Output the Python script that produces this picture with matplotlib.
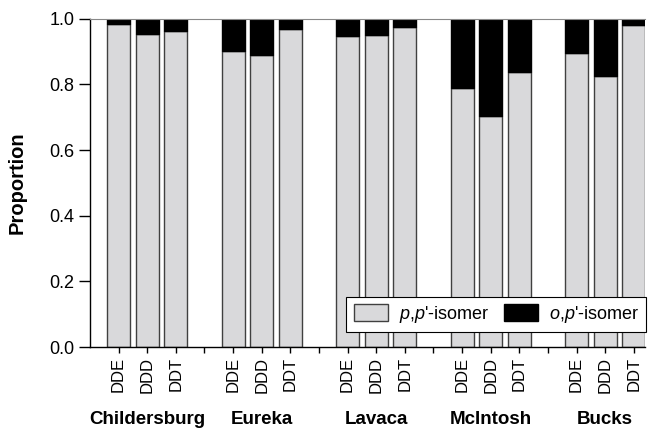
import matplotlib
matplotlib.use("Agg")
import matplotlib.pyplot as plt
import numpy as np

plt.rcParams['font.family'] = ['Liberation Sans', 'DejaVu Sans']
plt.rcParams['mathtext.fontset'] = 'custom'
plt.rcParams['mathtext.it'] = 'Liberation Sans:italic'
plt.rcParams['mathtext.rm'] = 'Liberation Sans'

# Data: proportion of p,p'-isomer for each site and compound
sites = ['Childersburg', 'Eureka', 'Lavaca', 'McIntosh', 'Bucks']
compounds = ['DDE', 'DDD', 'DDT']
pp_isomer = [
    [0.984, 0.953, 0.963],   # Childersburg
    [0.901, 0.890, 0.969],   # Eureka
    [0.948, 0.951, 0.976],   # Lavaca
    [0.790, 0.703, 0.837],   # McIntosh
    [0.895, 0.825, 0.982],   # Bucks
]

grey = '#d9d9db'
edge = '#404040'

fig = plt.figure(figsize=(6.54, 4.28), dpi=100)
ax = fig.add_axes([0.1376, 0.189, 0.849, 0.767])

pos, pp_vals, labels = [], [], []
for i, site in enumerate(sites):
    for j, comp in enumerate(compounds):
        pos.append(i * 4 + j + 1)
        pp_vals.append(pp_isomer[i][j])
        labels.append(comp)
pos = np.array(pos)
pp_vals = np.array(pp_vals)
op_vals = 1 - pp_vals

ax.bar(pos, pp_vals, width=0.8, color=grey, edgecolor=edge, linewidth=1.0,
       label=r"$\mathit{p{,}p}$'-isomer")
ax.bar(pos, op_vals, width=0.8, bottom=pp_vals, color='black', edgecolor='black',
       linewidth=1.0, label=r"$\mathit{o{,}p}$'-isomer")

# ticks: bar centres plus gap ticks between groups
gap_ticks = [4, 8, 12, 16]
all_ticks = list(pos) + gap_ticks
all_labels = labels + [''] * len(gap_ticks)
ax.set_xticks(all_ticks)
ax.set_xticklabels(all_labels, rotation=90, fontsize=12)
ax.set_xlim(0, 19.4)
ax.set_ylim(0, 1.0)
ax.set_yticks(np.arange(0, 1.01, 0.2))
ax.set_yticklabels(['%.1f' % v for v in np.arange(0, 1.01, 0.2)], fontsize=13)
ax.tick_params(axis='x', direction='out', length=4, width=1, pad=3)
ax.tick_params(axis='y', direction='out', length=8, width=1, pad=3)
ax.set_ylabel('Proportion', fontsize=14.5, fontweight='bold')
ax.yaxis.set_label_coords(-0.115, 0.5)

for side in ['left', 'bottom']:
    ax.spines[side].set_linewidth(1.0)
ax.spines['right'].set_visible(False)
ax.spines['top'].set_color('#888888')

for i, site in enumerate(sites):
    ax.text(i * 4 + 2, -0.195, site, ha='center', va='top', fontsize=13.5,
            fontweight='bold', transform=ax.get_xaxis_transform())

leg = ax.legend(loc='lower right', bbox_to_anchor=(1.002, 0.046), ncol=2,
                fontsize=13, frameon=True, fancybox=False, handlelength=1.9,
                handleheight=1.1, columnspacing=0.8, handletextpad=0.6,
                borderpad=0.4, borderaxespad=0, framealpha=1)
leg.get_frame().set_edgecolor('black')
leg.get_frame().set_linewidth(0.8)

fig.savefig('out.png', dpi=100)
